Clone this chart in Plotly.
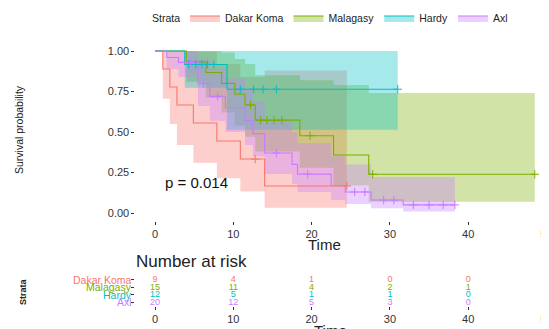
import plotly.graph_objects as go

# ---------------- data ----------------
strata = ["Dakar Koma", "Malagasy", "Hardy", "Axl"]
colors = ["#F8766D", "#7CAE00", "#00BFC4", "#C77CFF"]
fills = ["rgba(248,118,109,0.35)", "rgba(124,174,0,0.35)",
         "rgba(0,191,196,0.35)", "rgba(199,124,255,0.35)"]

red_t = [0, 1.0, 1.9, 2.8, 4.9, 7.9, 10.9, 14.0]
red_s = [1, 0.889, 0.778, 0.667, 0.556, 0.444, 0.333, 0.167]
red_lo = [1, 0.706, 0.549, 0.42, 0.31, 0.214, 0.132, 0.032]
red_hi = [1, 1, 1, 1, 0.995, 0.92, 0.84, 0.88]
red_end = 24.5
red_ct = [12.8, 24.5]
red_cs = [0.333, 0.167]

grn_t = [0, 4.0, 6.5, 8.5, 10.2, 11.5, 12.8, 18.5, 22.8, 27.3]
grn_s = [1, 0.933, 0.867, 0.80, 0.733, 0.667, 0.573, 0.477, 0.358, 0.239]
grn_lo = [1, 0.81, 0.71, 0.62, 0.54, 0.47, 0.38, 0.28, 0.17, 0.07]
grn_hi = [1, 1, 1, 0.99, 0.95, 0.92, 0.85, 0.82, 0.79, 0.74]
grn_end = 48.5
grn_ct = [12.2, 13.5, 14.3, 15.2, 16.2, 19.8, 27.8, 48.5]
grn_cs = [0.667, 0.573, 0.573, 0.573, 0.573, 0.477, 0.239, 0.239]

cyn_t = [0, 3.8, 9.2]
cyn_s = [1, 0.917, 0.764]
cyn_lo = [1, 0.773, 0.514]
cyn_hi = [1, 1, 1]
cyn_end = 31.0
cyn_ct = [4.3, 5.2, 6.0, 6.7, 7.5, 10.9, 12.6, 13.8, 15.5, 31.0]
cyn_cs = [0.917, 0.917, 0.917, 0.917, 0.917, 0.764, 0.764, 0.764, 0.764, 0.764]

pur_t = [0, 1.5, 3.0, 5.5, 7.0, 9.0, 11.5, 12.5, 14.0, 17.5, 18.2, 22.5, 24.3, 27.6, 31.7]
pur_s = [1, 0.96, 0.93, 0.80, 0.72, 0.65, 0.57, 0.49, 0.37, 0.30, 0.24, 0.17, 0.13, 0.08, 0.05]
pur_lo = [1, 0.89, 0.84, 0.66, 0.57, 0.50, 0.42, 0.35, 0.24, 0.18, 0.13, 0.08, 0.055, 0.03, 0.01]
pur_hi = [1, 1, 1, 0.95, 0.89, 0.83, 0.76, 0.69, 0.57, 0.50, 0.43, 0.35, 0.30, 0.22, 0.22]
pur_end = 38.3
pur_ct = [4.5, 6.2, 8.0, 15.5, 19.5, 25.5, 26.8, 29.2, 30.5, 33.0, 35.0, 36.8, 38.3]
pur_cs = [0.93, 0.80, 0.72, 0.37, 0.24, 0.13, 0.13, 0.08, 0.08, 0.05, 0.05, 0.05, 0.05]

risk_times = [0, 10, 20, 30, 40, 50]
risk_red = [9, 4, 1, 0, 0, 0]
risk_grn = [15, 11, 4, 2, 1, 0]
risk_cyn = [12, 5, 1, 1, 0, 0]
risk_pur = [20, 12, 5, 3, 0, 0]

x_ticks = [0, 10, 20, 30, 40, 50]
y_ticks = [0, 0.25, 0.5, 0.75, 1.0]
y_ticklabels = ["0.00", "0.25", "0.50", "0.75", "1.00"]
p_text = "p = 0.014"

groups = [
    (red_t, red_s, red_lo, red_hi, red_end, red_ct, red_cs, risk_red),
    (grn_t, grn_s, grn_lo, grn_hi, grn_end, grn_ct, grn_cs, risk_grn),
    (cyn_t, cyn_s, cyn_lo, cyn_hi, cyn_end, cyn_ct, cyn_cs, risk_cyn),
    (pur_t, pur_s, pur_lo, pur_hi, pur_end, pur_ct, pur_cs, risk_pur),
]


def step_path(t, v, end):
    xs, ys = [], []
    for i in range(len(t)):
        if i > 0:
            xs.append(t[i]); ys.append(v[i - 1])
        xs.append(t[i]); ys.append(v[i])
    xs.append(end); ys.append(v[-1])
    return xs, ys


W, H = 549, 329
OFF = 8  # page body margin: screen px = figure px + 8


def px(x):
    return (x - OFF) / W


def py(y):
    return 1 - (y - OFF) / H


fig = go.Figure()

# confidence ribbons
for (t, s, lo, hi, end, ct, cs, rk), c, f in zip(groups, colors, fills):
    ux, uy = step_path(t, hi, end)
    lx, ly = step_path(t, lo, end)
    fig.add_trace(go.Scatter(x=ux + lx[::-1], y=uy + ly[::-1], fill="toself",
                             fillcolor=f, mode="lines", line=dict(width=0),
                             hoverinfo="skip", showlegend=False))
# curves
for (t, s, lo, hi, end, ct, cs, rk), c in zip(groups, colors):
    fig.add_trace(go.Scatter(x=t + [end], y=s + [s[-1]], mode="lines",
                             line=dict(color=c, width=1.1, shape="hv"),
                             showlegend=False))
# censor marks
for (t, s, lo, hi, end, ct, cs, rk), c in zip(groups, colors):
    fig.add_trace(go.Scatter(x=ct, y=cs, mode="markers",
                             marker=dict(symbol="cross-thin", size=6,
                                         line=dict(color=c, width=1)),
                             showlegend=False))
# legend entries
for name, c, f in zip(strata, colors, fills):
    fig.add_trace(go.Scatter(x=[None], y=[None], name=name, mode="lines",
                             fill="toself", fillcolor=f,
                             line=dict(color=c, width=1.1)))

# risk table
for i, ((t, s, lo, hi, end, ct, cs, rk), c) in enumerate(zip(groups, colors)):
    fig.add_trace(go.Scatter(x=risk_times, y=[i + 1] * len(risk_times),
                             mode="text", text=[str(v) for v in rk],
                             textfont=dict(color=c, size=9, family="Liberation Sans"),
                             xaxis="x2", yaxis="y2", showlegend=False,
                             cliponaxis=False))

# screen coordinates of the reference layout
zero_x, unit_x = 155.0, 7.83
left_px = zero_x - 2.5 * unit_x
x_lo = -2.5
x_hi = (W + OFF - zero_x) / unit_x
one_y, zero_y = 51.0, 213.0
unit_y = zero_y - one_y
main_top, main_bot = one_y - 0.05 * unit_y, zero_y + 0.05 * unit_y
risk_top, risk_bot = 276, 306
tickfont = dict(size=11, color="#333333", family="Liberation Sans")

fig.update_layout(
    width=W, height=H, margin=dict(l=0, r=0, t=0, b=0, autoexpand=False),
    paper_bgcolor="white", plot_bgcolor="white",
    font=dict(family="Liberation Sans", color="#222222"),
    xaxis=dict(domain=[px(left_px), 1], range=[x_lo, x_hi], tickvals=x_ticks,
               ticks="outside", ticklen=3, tickcolor="#333333", showgrid=False,
               zeroline=False, showline=False, tickfont=tickfont),
    yaxis=dict(domain=[py(main_bot), py(main_top)], range=[-0.05, 1.05],
               tickvals=y_ticks, ticktext=y_ticklabels, ticks="outside",
               ticklen=3, tickcolor="#333333", showgrid=False, zeroline=False,
               showline=False, tickfont=tickfont),
    xaxis2=dict(domain=[px(left_px), 1], range=[x_lo, x_hi], tickvals=x_ticks,
                ticks="outside", ticklen=3, tickcolor="#333333", showgrid=False,
                zeroline=False, showline=False, tickfont=tickfont, anchor="y2"),
    yaxis2=dict(domain=[py(risk_bot), py(risk_top)], range=[4.5, 0.5],
                tickvals=[1, 2, 3, 4], ticktext=[""] * 4, ticks="outside",
                ticklen=3, tickcolor="#333333", showgrid=False, zeroline=False,
                showline=False, anchor="x2"),
    legend=dict(orientation="h", x=px(185), xanchor="left", y=py(18),
                yanchor="middle", font=dict(size=10.5, color="#222222"),
                bgcolor="rgba(0,0,0,0)", itemwidth=30, tracegroupgap=0),
)

ann = [
    dict(x=px(150), y=py(18), xref="paper", yref="paper", text="Strata",
         showarrow=False, xanchor="left", yanchor="middle",
         font=dict(size=10.5, color="#222222")),
    dict(x=1.0, y=0.19, xref="x", yref="y", text=p_text, showarrow=False,
         xanchor="left", yanchor="middle", font=dict(size=15, color="#111111")),
    dict(x=px(19), y=py(130), xref="paper", yref="paper",
         text="Survival probability", textangle=-90, showarrow=False,
         xanchor="center", yanchor="middle",
         font=dict(size=10.5, color="#222222")),
    dict(x=px(324), y=py(244), xref="paper", yref="paper", text="Time",
         showarrow=False, xanchor="center", yanchor="middle",
         font=dict(size=15, color="#222222")),
    dict(x=px(134), y=py(261), xref="paper", yref="paper",
         text="Number at risk", showarrow=False, xanchor="left",
         yanchor="middle", font=dict(size=17, color="#222222")),
    dict(x=px(23), y=py(292), xref="paper", yref="paper",
         text="<b>Strata</b>", textangle=-90, showarrow=False,
         xanchor="center", yanchor="middle",
         font=dict(size=9, color="#222222")),
    dict(x=px(330), y=py(330), xref="paper", yref="paper", text="Time",
         showarrow=False, xanchor="center", yanchor="middle",
         font=dict(size=15, color="#222222")),
]
for i, (name, c) in enumerate(zip(strata, colors)):
    ann.append(dict(x=px(134), y=i + 1, xref="paper", yref="y2", text=name,
                    showarrow=False, xanchor="right", yanchor="middle",
                    font=dict(size=10.5, color=c)))
fig.update_layout(annotations=ann)

fig.write_html("out.html")
